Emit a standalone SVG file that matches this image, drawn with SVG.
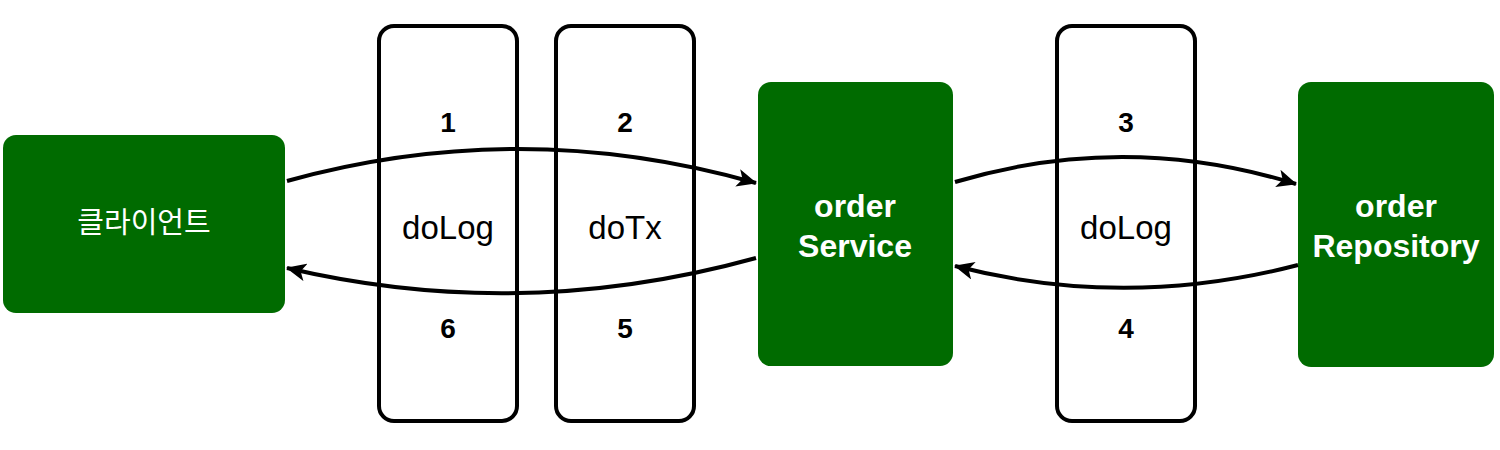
<svg xmlns="http://www.w3.org/2000/svg" width="1500" height="450" viewBox="0 0 1500 450">
<defs>
<style>
.node{fill:#006b00;stroke:none}
.box{fill:#fff;stroke:#000;stroke-width:4}
.wt{fill:#fff;font-family:"Liberation Sans",Arial,sans-serif;font-size:32px;font-weight:bold;text-anchor:middle}
.kt{fill:#fff;font-family:"Noto Sans CJK KR","Noto Sans",sans-serif;font-size:29px;font-weight:normal;text-anchor:middle}
.bt{fill:#000;font-family:"Liberation Sans",Arial,sans-serif;font-size:33px;text-anchor:middle}
.num{fill:#000;font-family:"Liberation Sans",Arial,sans-serif;font-size:28px;font-weight:bold;text-anchor:middle}
.edge{fill:none;stroke:#000;stroke-width:4}
</style>
<marker id="ah" viewBox="0 0 20 18" refX="19" refY="9" markerWidth="20" markerHeight="18" markerUnits="userSpaceOnUse" orient="auto">
<path d="M0,0 L20,9 L0,18 L5,9 Z" fill="#000"/>
</marker>
</defs>
<rect width="1500" height="450" fill="#fff"/>
<g id="client">
<rect class="node" x="3" y="135" width="282" height="178" rx="13"/>
<text class="kt" x="144" y="233">클라이언트</text>
</g>
<g id="doLog1">
<rect class="box" x="379" y="26" width="138" height="395" rx="15"/>
<text class="num" x="448" y="132">1</text>
<text class="bt" x="448" y="239">doLog</text>
<text class="num" x="448" y="338">6</text>
</g>
<g id="doTx">
<rect class="box" x="556" y="26" width="138" height="395" rx="15"/>
<text class="num" x="625" y="132">2</text>
<text class="bt" x="625" y="239">doTx</text>
<text class="num" x="625" y="338">5</text>
</g>
<g id="doLog2">
<rect class="box" x="1057" y="26" width="138" height="395" rx="15"/>
<text class="num" x="1126" y="132">3</text>
<text class="bt" x="1126" y="239">doLog</text>
<text class="num" x="1126" y="338">4</text>
</g>
<g id="orderService">
<rect class="node" x="758" y="82" width="195" height="284" rx="13"/>
<text class="wt" x="855" y="217">order</text>
<text class="wt" x="855" y="257">Service</text>
</g>
<g id="orderRepository">
<rect class="node" x="1298" y="82" width="196" height="285" rx="13"/>
<text class="wt" x="1396" y="217">order</text>
<text class="wt" x="1396" y="257">Repository</text>
</g>
<g id="connectors">
<path class="edge" marker-end="url(#ah)" d="M287,181 Q521,116 756,183"/>
<path class="edge" marker-end="url(#ah)" d="M756,258 Q521,323 287,268"/>
<path class="edge" marker-end="url(#ah)" d="M955,182 Q1125,131 1296,184"/>
<path class="edge" marker-end="url(#ah)" d="M1298,265 Q1125,310 955,266"/>
</g>
</svg>
